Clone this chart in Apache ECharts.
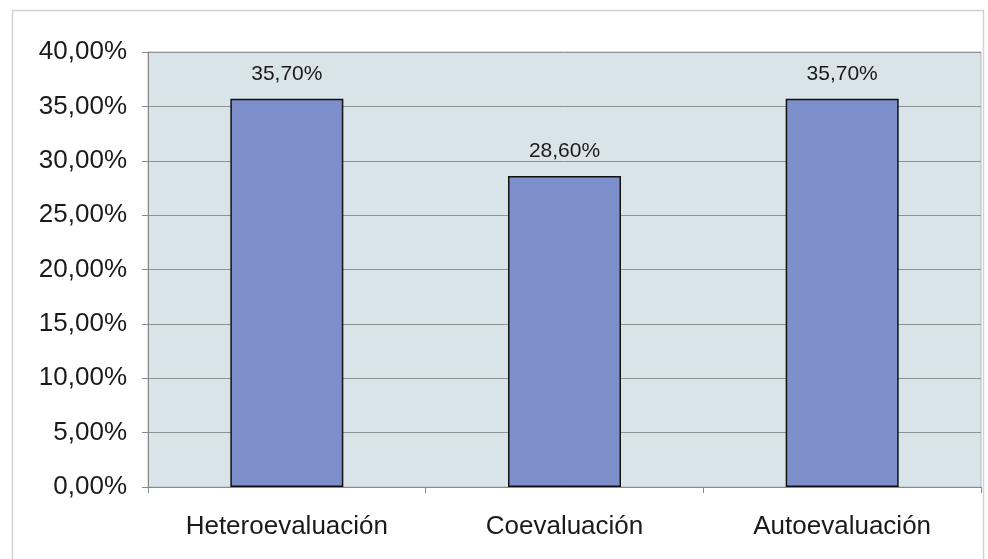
<!DOCTYPE html>
<html><head><meta charset="utf-8">
<script src="https://cdn.jsdelivr.net/npm/echarts@6/dist/echarts.min.js"></script>
<style>html,body{margin:0;padding:0;background:#fff}#c{width:988px;height:559px}</style>
</head><body><div id="c"></div>
<script>
var categories = ["Heteroevaluación", "Coevaluación", "Autoevaluación"];
var values = [35.7, 28.6, 35.7];
var yTicks = [0, 5, 10, 15, 20, 25, 30, 35, 40];

function fmt(v){ return v.toFixed(2).replace('.', ',') + '%'; }

var FONT = 'Liberation Sans, Arial, sans-serif';
var chart = echarts.init(document.getElementById('c'), null, {renderer:'canvas'});
chart.setOption({
  animation: false,
  backgroundColor: '#ffffff',
  graphic: [{
    type: 'rect', silent: true, z: -10,
    shape: {x: 12.5, y: 10.5, width: 971, height: 560},
    style: {fill: 'none', stroke: '#d2d2d2', lineWidth: 1.5}
  }],
  grid: {left: 148, right: 7, top: 52, bottom: 72, show: true, backgroundColor: '#d9e4e9', borderColor: '#b4b8ba', borderWidth: 1},
  xAxis: {
    type: 'category', data: categories,
    axisLine: {show: true, lineStyle: {color: '#8a8a8a'}},
    axisTick: {show: true, alignWithLabel: false, length: 6, lineStyle: {color: '#8a8a8a'}},
    axisLabel: {color: '#1a1a1a', fontSize: 26, fontFamily: FONT, margin: 27}
  },
  yAxis: {
    type: 'value', min: yTicks[0], max: yTicks[yTicks.length-1], interval: 5,
    axisLine: {show: true, lineStyle: {color: '#8a8a8a'}},
    axisTick: {show: true, length: 6, lineStyle: {color: '#8a8a8a'}},
    splitLine: {show: true, lineStyle: {color: '#8c9295', width: 1}},
    axisLabel: {color: '#1a1a1a', fontSize: 26, fontFamily: FONT, margin: 21, formatter: function(v){return fmt(v);}}
  },
  series: [{
    type: 'bar', data: values, barWidth: 113,
    itemStyle: {color: '#7c8fcb', borderColor: '#111111', borderWidth: 1.5},
    label: {show: true, position: 'top', distance: 14, color: '#1a1a1a', fontSize: 21, fontFamily: FONT, formatter: function(p){return fmt(p.value);}}
  }]
});
</script></body></html>
